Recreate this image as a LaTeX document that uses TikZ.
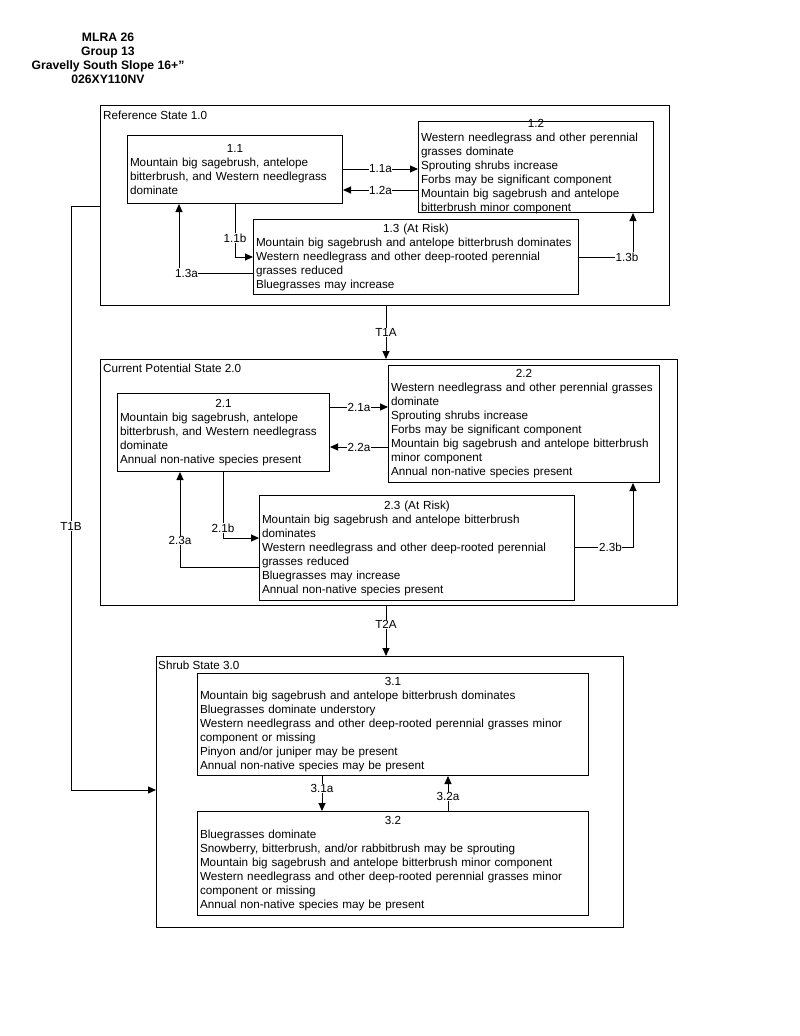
\documentclass[tikz,border=0pt]{standalone}
\usepackage{fontspec}
\setmainfont{Liberation Sans}
\usetikzlibrary{arrows.meta}
\newcommand\numline[1]{\hspace*{\fill}#1\hspace*{\fill}\mbox{}}
\begin{document}
\begin{tikzpicture}[x=1pt,y=-1pt,
  every node/.style={font=\fontsize{11.7}{14}\selectfont},
  sbox/.style={draw, line width=1pt, anchor=north west, inner sep=0pt},
  stxt/.style={align=left, inner sep=0pt},
  arr/.style={line width=1pt, -{Triangle[length=8pt,width=7pt]}},
  lbl/.style={fill=white, inner sep=0.6pt},
  stlbl/.style={anchor=base west, inner sep=0pt}]
\useasboundingbox (0,0) rectangle (800,1036);

% title
\node[font=\bfseries\fontsize{12.2}{14}\selectfont, align=center] (title) at (108,58)
  {MLRA 26\\Group 13\\Gravelly South Slope 16+”\\026XY110NV};

% state boxes
\node[sbox, minimum width=569, minimum height=200] (s1) at (100,105) {};
\node[stlbl] (l1) at (103,119.5) {Reference State 1.0};
\node[sbox, minimum width=577, minimum height=246] (s2) at (100,359) {};
\node[stlbl] (l2) at (103,372.5) {Current Potential State 2.0};
\node[sbox, minimum width=467, minimum height=271] (s3) at (156,656) {};
\node[stlbl] (l3) at (158,669.5) {Shrub State 3.0};

% community boxes
\node[sbox, minimum width=215, minimum height=68] (n11) at (127,135) {};
\node[stxt, text width=210] (t11) at (n11.center) {\numline{1.1}\\
Mountain big sagebrush, antelope\\bitterbrush, and Western needlegrass\\dominate};

\node[sbox, minimum width=235, minimum height=91] (n12) at (418,121) {};
\node[stxt, text width=230] (t12) at (n12.center) {\numline{1.2}\\
Western needlegrass and other perennial\\grasses dominate\\Sprouting shrubs increase\\Forbs may be significant component\\Mountain big sagebrush and antelope\\bitterbrush minor component};

\node[sbox, minimum width=325, minimum height=75] (n13) at (253,219) {};
\node[stxt, text width=320] (t13) at (n13.center) {\numline{1.3 (At Risk)}\\
Mountain big sagebrush and antelope bitterbrush dominates\\Western needlegrass and other deep-rooted perennial\\grasses reduced\\Bluegrasses may increase};

\node[sbox, minimum width=212, minimum height=78] (n21) at (117,393) {};
\node[stxt, text width=207] (t21) at (n21.center) {\numline{2.1}\\
Mountain big sagebrush, antelope\\bitterbrush, and Western needlegrass\\dominate\\Annual non-native species present};

\node[sbox, minimum width=271, minimum height=117] (n22) at (388,365) {};
\node[stxt, text width=266] (t22) at (n22.center) {\numline{2.2}\\
Western needlegrass and other perennial grasses\\dominate\\Sprouting shrubs increase\\Forbs may be significant component\\Mountain big sagebrush and antelope bitterbrush\\minor component\\Annual non-native species present};

\node[sbox, minimum width=315, minimum height=105] (n23) at (259,495) {};
\node[stxt, text width=310] (t23) at (n23.center) {\numline{2.3 (At Risk)}\\
Mountain big sagebrush and antelope bitterbrush\\dominates\\Western needlegrass and other deep-rooted perennial\\grasses reduced\\Bluegrasses may increase\\Annual non-native species present};

\node[sbox, minimum width=391, minimum height=102] (n31) at (197,673) {};
\node[stxt, text width=386] (t31) at (n31.center) {\numline{3.1}\\
Mountain big sagebrush and antelope bitterbrush dominates\\Bluegrasses dominate understory\\Western needlegrass and other deep-rooted perennial grasses minor\\component or missing\\Pinyon and/or juniper may be present\\Annual non-native species may be present};

\node[sbox, minimum width=391, minimum height=104] (n32) at (197,811) {};
\node[stxt, text width=386] (t32) at (n32.center) {\numline{3.2}\\
Bluegrasses dominate\\Snowberry, bitterbrush, and/or rabbitbrush may be sprouting\\Mountain big sagebrush and antelope bitterbrush minor component\\Western needlegrass and other deep-rooted perennial grasses minor\\component or missing\\Annual non-native species may be present};

% connectors state 1
\draw[arr] (n11.east |- 0,169) -- node[lbl]{1.1a} (n12.west |- 0,169);
\draw[arr] (n12.west |- 0,190) -- node[lbl]{1.2a} (n11.east |- 0,190);
\draw[arr] (n11.south -| 235,0) |- node[lbl,pos=0.32]{1.1b} (n13.west |- 0,257);
\draw[arr] (n13.west |- 0,273) -| node[lbl,pos=0.45]{1.3a} (n11.south -| 179,0);
\draw[arr] (n13.east |- 0,257) -| node[lbl,pos=0.445]{1.3b} (n12.south -| 633,0);

% transitions
\draw[arr] (s1.south -| 386,0) -- node[lbl]{T1A} (s2.north -| 386,0);
\draw[arr] (s1.west |- 0,206) -- (71,206) -- node[lbl,pos=0.548]{T1B} (71,790) -- (s3.west |- 0,790);
\draw[arr] (s2.south -| 386,0) -- node[lbl,pos=0.37]{T2A} (s3.north -| 386,0);

% connectors state 2
\draw[arr] (n21.east |- 0,407) -- node[lbl]{2.1a} (n22.west |- 0,407);
\draw[arr] (n22.west |- 0,447) -- node[lbl]{2.2a} (n21.east |- 0,447);
\draw[arr] (n21.south -| 223,0) |- node[lbl,pos=0.425]{2.1b} (n23.west |- 0,538);
\draw[arr] (n23.west |- 0,567) -| node[lbl,pos=0.64]{2.3a} (n21.south -| 180,0);
\draw[arr] (n23.east |- 0,547) -| node[lbl,pos=0.305]{2.3b} (n22.south -| 633,0);

% connectors state 3
\draw[arr] (n31.south -| 322,0) -- node[lbl,pos=0.36]{3.1a} (n32.north -| 322,0);
\draw[arr] (n32.north -| 448,0) -- node[lbl,pos=0.42]{3.2a} (n31.south -| 448,0);
\end{tikzpicture}
\end{document}
